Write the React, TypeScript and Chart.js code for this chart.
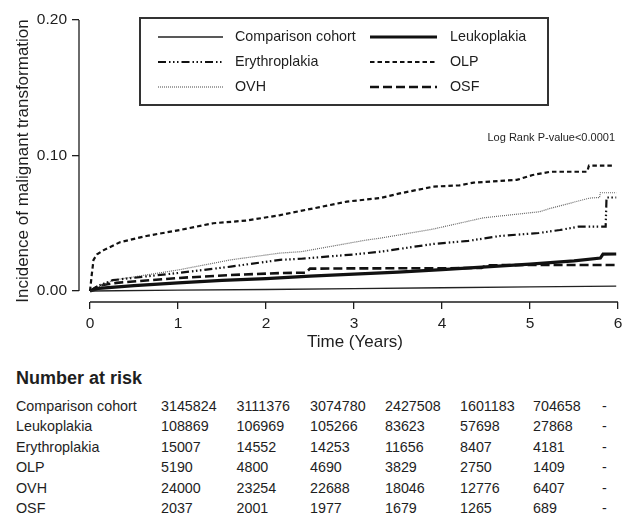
import React, { useEffect, useRef } from "react";
import { Chart, registerables } from "chart.js";

Chart.register(...registerables);

// ---------- data ----------
const seriesNames = ["Comparison cohort", "Leukoplakia", "Erythroplakia", "OLP", "OVH", "OSF"];

const comparisonT = [0, 1, 2, 3, 4, 5, 5.98];
const comparisonY = [0, 0.0006, 0.0011, 0.0017, 0.0024, 0.0031, 0.0036];

const leukoplakiaT = [0, 0.1, 0.5, 1, 1.5, 2, 2.5, 3, 3.5, 4, 4.5, 5, 5.5, 5.8, 5.83, 5.98];
const leukoplakiaY = [0, 0.002, 0.004, 0.006, 0.0078, 0.0092, 0.011, 0.0125, 0.014, 0.0158, 0.0178, 0.0198, 0.0222, 0.0243, 0.0272, 0.0273];

const erythroplakiaT = [0, 0.1, 0.26, 0.6, 1, 1.6, 2.16, 2.4, 3, 3.3, 3.9, 4.3, 4.66, 5.1, 5.34, 5.55, 5.86, 5.87, 5.98];
const erythroplakiaY = [0, 0.004, 0.008, 0.0105, 0.0133, 0.018, 0.023, 0.0238, 0.027, 0.029, 0.0347, 0.037, 0.0406, 0.0428, 0.045, 0.0475, 0.0475, 0.069, 0.069];

const olpT = [0, 0.02, 0.04, 0.08, 0.15, 0.34, 0.64, 1.02, 1.4, 1.78, 2.16, 2.54, 2.92, 3.3, 3.52, 3.9, 4.2, 4.36, 4.85, 5.03, 5.23, 5.65, 5.67, 5.95];
const olpY = [0, 0.012, 0.023, 0.027, 0.03, 0.036, 0.0406, 0.045, 0.05, 0.052, 0.056, 0.061, 0.066, 0.0686, 0.072, 0.077, 0.078, 0.08, 0.082, 0.0856, 0.088, 0.088, 0.0925, 0.0925];

const ovhT = [0, 0.26, 1, 1.6, 2.16, 2.4, 3.14, 3.3, 3.9, 4.47, 5.11, 5.23, 5.68, 5.79, 5.8, 5.98];
const ovhY = [0, 0.008, 0.0155, 0.023, 0.028, 0.029, 0.0376, 0.039, 0.0457, 0.054, 0.0585, 0.061, 0.0686, 0.069, 0.0725, 0.0725];

const osfT = [0, 0.1, 0.3, 1, 1.6, 2.2, 2.45, 2.5, 3, 4, 4.45, 4.5, 5, 5.98];
const osfY = [0, 0.004, 0.006, 0.0096, 0.0118, 0.0133, 0.0135, 0.0165, 0.0167, 0.0168, 0.017, 0.019, 0.0192, 0.0192];

const xTicks = [0, 1, 2, 3, 4, 5, 6];
const yTicks = [0, 0.1, 0.2];

const riskTimes = ["0", "1", "2", "3", "4", "5", "6"];
const riskComparison = ["3145824", "3111376", "3074780", "2427508", "1601183", "704658", "-"];
const riskLeukoplakia = ["108869", "106969", "105266", "83623", "57698", "27868", "-"];
const riskErythroplakia = ["15007", "14552", "14253", "11656", "8407", "4181", "-"];
const riskOLP = ["5190", "4800", "4690", "3829", "2750", "1409", "-"];
const riskOVH = ["24000", "23254", "22688", "18046", "12776", "6407", "-"];
const riskOSF = ["2037", "2001", "1977", "1679", "1265", "689", "-"];

const pValueText = "Log Rank P-value<0.0001";

// ---------- styles ----------
const FONT = "'Liberation Sans', Arial, Helvetica, sans-serif";
const INK = "#1e1e1e";

const lineStyles = [
  { width: 1.3, dash: [] as number[], color: "#222" },
  { width: 3.2, dash: [] as number[], color: "#111" },
  { width: 2.2, dash: [8, 3, 1.5, 2.5, 1.5, 2.5, 1.5, 3], color: "#111" },
  { width: 2.2, dash: [4.5, 3], color: "#111" },
  { width: 1.2, dash: [1, 1], color: "#666" },
  { width: 2.6, dash: [9, 4], color: "#111" },
];

const seriesT = [comparisonT, leukoplakiaT, erythroplakiaT, olpT, ovhT, osfT];
const seriesY = [comparisonY, leukoplakiaY, erythroplakiaY, olpY, ovhY, osfY];
const riskRows = [riskComparison, riskLeukoplakia, riskErythroplakia, riskOLP, riskOVH, riskOSF];

const CANVAS_W = 631;
const CANVAS_H = 360;

const overlayPlugin = {
  id: "overlay",
  afterDraw(chart: any) {
    const { ctx, chartArea } = chart;
    const xs = chart.scales.x;
    const ys = chart.scales.y;
    ctx.save();
    // detached axis lines
    ctx.strokeStyle = INK;
    ctx.lineWidth = 1.3;
    ctx.setLineDash([]);
    ctx.beginPath();
    ctx.moveTo(chartArea.left, ys.getPixelForValue(yTicks[yTicks.length - 1]));
    ctx.lineTo(chartArea.left, ys.getPixelForValue(yTicks[0]));
    ctx.moveTo(xs.getPixelForValue(xTicks[0]), chartArea.bottom);
    ctx.lineTo(xs.getPixelForValue(xTicks[xTicks.length - 1]), chartArea.bottom);
    ctx.stroke();

    // legend box
    const bx = 140, by = 18, bw = 408, bh = 87;
    ctx.lineWidth = 2;
    ctx.strokeStyle = "#333";
    ctx.strokeRect(bx, by, bw, bh);
    ctx.font = `14.3px ${FONT}`;
    ctx.textBaseline = "middle";
    ctx.textAlign = "left";
    chart.data.datasets.forEach((ds: any, i: number) => {
      const col = i % 2;
      const row = Math.floor(i / 2);
      const y = 37 + row * 25;
      const x1 = col === 0 ? 158 : 370;
      const x2 = col === 0 ? 223 : 437;
      const tx = col === 0 ? 235 : 450;
      ctx.save();
      ctx.strokeStyle = ds.borderColor;
      ctx.lineWidth = ds.borderWidth;
      ctx.setLineDash(ds.borderDash || []);
      ctx.beginPath();
      ctx.moveTo(x1, y);
      ctx.lineTo(x2, y);
      ctx.stroke();
      ctx.restore();
      ctx.fillStyle = INK;
      ctx.fillText(ds.label, tx, y + 0.5);
    });

    // p-value
    ctx.font = `11px ${FONT}`;
    ctx.textAlign = "right";
    ctx.fillStyle = INK;
    ctx.fillText(pValueText, 615, 138);
    ctx.restore();
  },
};

export default function App() {
  const ref = useRef<HTMLCanvasElement | null>(null);

  useEffect(() => {
    if (!ref.current) return;
    const datasets = seriesNames.map((name, i) => ({
      label: name,
      data: seriesT[i].map((t, k) => ({ x: t, y: seriesY[i][k] })),
      borderColor: lineStyles[i].color,
      borderWidth: lineStyles[i].width,
      borderDash: lineStyles[i].dash,
      borderCapStyle: "butt",
      pointRadius: 0,
      tension: 0,
      fill: false,
    }));

    const chart = new Chart(ref.current, {
      type: "line",
      data: { datasets },
      plugins: [overlayPlugin],
      options: {
        responsive: false,
        animation: false,
        devicePixelRatio: 1,
        layout: { padding: { top: 20, right: 0, bottom: 0, left: 0 } },
        plugins: { legend: { display: false }, tooltip: { enabled: false } },
        scales: {
          x: {
            type: "linear",
            min: -0.125,
            max: 6.148,
            afterBuildTicks: (s: any) => {
              s.ticks = xTicks.map((v) => ({ value: v }));
            },
            afterFit: (s: any) => {
              s.height = CANVAS_H - 302;
            },
            border: { display: false },
            grid: {
              drawOnChartArea: false,
              drawTicks: true,
              tickLength: 7,
              color: INK,
              lineWidth: 1.3,
            },
            ticks: {
              color: INK,
              padding: 5,
              font: { family: FONT, size: 15.5 },
              maxRotation: 0,
              callback: (v: any) => String(v),
            },
            title: {
              display: true,
              text: "Time (Years)",
              color: INK,
              font: { family: FONT, size: 17 },
              padding: { top: 0, bottom: 7 },
            },
          },
          y: {
            type: "linear",
            min: -0.00812,
            max: 0.2,
            afterBuildTicks: (s: any) => {
              s.ticks = yTicks.map((v) => ({ value: v }));
            },
            afterFit: (s: any) => {
              s.width = 79;
            },
            border: { display: false },
            grid: {
              drawOnChartArea: false,
              drawTicks: true,
              tickLength: 7,
              color: INK,
              lineWidth: 1.3,
            },
            ticks: {
              color: INK,
              padding: 5,
              font: { family: FONT, size: 15.5 },
              callback: (v: any) => Number(v).toFixed(2),
            },
            title: {
              display: true,
              text: "Incidence of malignant transformation",
              color: INK,
              font: { family: FONT, size: 17 },
              padding: { top: 13, bottom: 0 },
            },
          },
        },
      },
    } as any);
    return () => chart.destroy();
  }, []);

  const colX = [161, 236.5, 310, 385, 460, 533, 602];
  const rowY0 = 406;
  const rowStep = 20.4;

  return (
    <div
      style={{
        position: "absolute",
        left: 0,
        top: 0,
        width: CANVAS_W,
        height: 516,
        background: "#fff",
        fontFamily: FONT,
        color: INK,
      }}
    >
      <canvas ref={ref} width={CANVAS_W} height={CANVAS_H} style={{ display: "block" }} />
      <div
        style={{
          position: "absolute",
          left: 16,
          top: 378 - 11,
          lineHeight: "22px",
          fontSize: 18,
          fontWeight: "bold",
          whiteSpace: "nowrap",
        }}
      >
        Number at risk
      </div>
      {riskRows.map((row, r) => (
        <React.Fragment key={r}>
          <div
            style={{
              position: "absolute",
              left: 16,
              top: rowY0 + r * rowStep - 10,
              lineHeight: "20px",
              fontSize: 14.3,
              whiteSpace: "nowrap",
            }}
          >
            {seriesNames[r]}
          </div>
          {row.map((v, c) => (
            <div
              key={riskTimes[c]}
              style={{
                position: "absolute",
                left: colX[c],
                top: rowY0 + r * rowStep - 10,
                lineHeight: "20px",
                fontSize: 14.3,
                whiteSpace: "nowrap",
              }}
            >
              {v}
            </div>
          ))}
        </React.Fragment>
      ))}
    </div>
  );
}
